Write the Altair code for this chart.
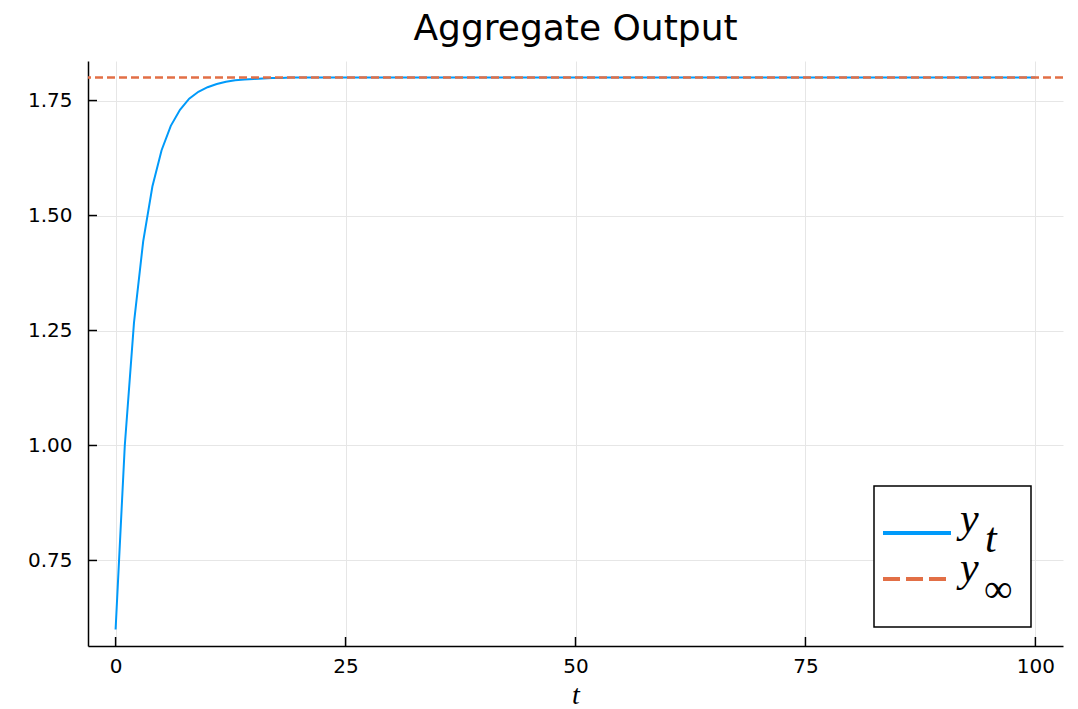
import altair as alt
import pandas as pd

# ---- data ----
t_vals = list(range(0, 101))
y_t = [
    0.600, 1.000, 1.267, 1.444, 1.563, 1.642, 1.695, 1.730, 1.754, 1.769,
    1.779, 1.786, 1.791, 1.794, 1.796, 1.797, 1.798, 1.799, 1.799, 1.800,
    1.800, 1.800, 1.800, 1.800, 1.800, 1.800, 1.800, 1.800, 1.800, 1.800,
    1.800, 1.800, 1.800, 1.800, 1.800, 1.800, 1.800, 1.800, 1.800, 1.800,
    1.800, 1.800, 1.800, 1.800, 1.800, 1.800, 1.800, 1.800, 1.800, 1.800,
    1.800, 1.800, 1.800, 1.800, 1.800, 1.800, 1.800, 1.800, 1.800, 1.800,
    1.800, 1.800, 1.800, 1.800, 1.800, 1.800, 1.800, 1.800, 1.800, 1.800,
    1.800, 1.800, 1.800, 1.800, 1.800, 1.800, 1.800, 1.800, 1.800, 1.800,
    1.800, 1.800, 1.800, 1.800, 1.800, 1.800, 1.800, 1.800, 1.800, 1.800,
    1.800, 1.800, 1.800, 1.800, 1.800, 1.800, 1.800, 1.800, 1.800, 1.800,
    1.800,
]
y_inf = [1.8]
x_ticks = [0, 25, 50, 75, 100]
y_ticks = [0.75, 1.00, 1.25, 1.50, 1.75]

BLUE = "#009AFA"
ORANGE = "#E26F46"
W, H = 975, 585

df = pd.DataFrame({"t": t_vals, "y": y_t})
df_inf = pd.DataFrame({"y": y_inf})
df_xt = pd.DataFrame({"t": x_ticks})
df_yt = pd.DataFrame({"y": y_ticks})
one = pd.DataFrame({"a": [0]})

serif = "Liberation Serif"
x_scale = alt.Scale(domain=[-3, 103], nice=False, zero=False)
y_scale = alt.Scale(domain=[0.564, 1.836], nice=False, zero=False)

x_enc = alt.X("t:Q", scale=x_scale,
              axis=alt.Axis(values=x_ticks, title="t", format="d",
                            labelFontSize=20, labelPadding=10,
                            titleFont=serif, titleFontStyle="italic",
                            titleFontWeight="normal", titleFontSize=28,
                            titlePadding=5))
y_enc = alt.Y("y:Q", scale=y_scale,
              axis=alt.Axis(values=y_ticks, title=None, format=".2f",
                            labelFontSize=20, labelPadding=16))

line = alt.Chart(df).mark_line(color=BLUE, strokeWidth=2).encode(x=x_enc, y=y_enc)
hline = alt.Chart(df_inf).mark_rule(color=ORANGE, strokeWidth=2.5,
                                    strokeDash=[8, 4]).encode(y=y_enc)
xticks = alt.Chart(df_xt).mark_rule(color="black", strokeWidth=1.5).encode(
    x=x_enc, y=alt.value(H), y2=alt.value(H - 9))
yticks = alt.Chart(df_yt).mark_rule(color="black", strokeWidth=1.5).encode(
    y=y_enc, x=alt.value(0), x2=alt.value(9))

# ---- legend (drawn by hand for the sub-scripted math labels) ----
lg_box = alt.Chart(one).mark_rect(fill="white", stroke="black", strokeWidth=1.5).encode(
    x=alt.value(786), x2=alt.value(943), y=alt.value(425), y2=alt.value(566))
lg_l1 = alt.Chart(one).mark_rule(color=BLUE, strokeWidth=4).encode(
    x=alt.value(795), x2=alt.value(863), y=alt.value(472))
lg_l2 = alt.Chart(one).mark_rule(color=ORANGE, strokeWidth=4, strokeDash=[17, 6]).encode(
    x=alt.value(795), x2=alt.value(863), y=alt.value(518))
lg_y1 = alt.Chart(one).mark_text(text="y", font=serif, fontStyle="italic", fontSize=42,
                                 align="left", baseline="alphabetic").encode(
    x=alt.value(872), y=alt.value(471))
lg_s1 = alt.Chart(one).mark_text(text="t", font=serif, fontStyle="italic", fontSize=42,
                                 align="left", baseline="alphabetic").encode(
    x=alt.value(897), y=alt.value(491))
lg_y2 = alt.Chart(one).mark_text(text="y", font=serif, fontStyle="italic", fontSize=42,
                                 align="left", baseline="alphabetic").encode(
    x=alt.value(872), y=alt.value(520))
lg_s2 = alt.Chart(one).mark_text(text="∞", font=serif, fontSize=40,
                                 align="left", baseline="alphabetic").encode(
    x=alt.value(896), y=alt.value(541))

chart = alt.layer(
    line, hline, xticks, yticks, lg_box, lg_l1, lg_l2, lg_y1, lg_s1, lg_y2, lg_s2
).properties(
    width=W, height=H,
    title=alt.TitleParams("Aggregate Output", font="DejaVu Sans", fontSize=36,
                          fontWeight="normal", color="black", anchor="middle", offset=13),
    padding={"left": 80, "top": 53, "right": 7, "bottom": 62},
    autosize="none",
).configure_view(stroke=None).configure_axis(
    grid=True, gridColor="#e6e6e6", gridWidth=1,
    domain=True, domainColor="black", domainWidth=1.5,
    ticks=False, tickSize=0,
    labelFont="DejaVu Sans", labelFontSize=20, labelColor="black",
    titleColor="black",
)

chart.save("out.html", embed_options={"renderer": "svg", "actions": False})
